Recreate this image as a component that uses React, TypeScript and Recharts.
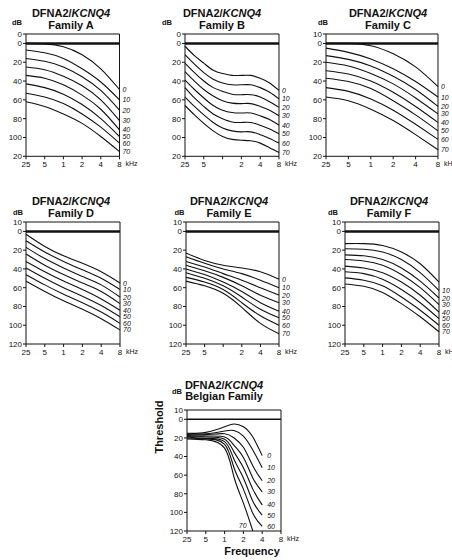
import React from 'react';
import { LineChart, Line, XAxis, YAxis, ReferenceLine } from 'recharts';

const FONT = '"Liberation Sans", Arial, Helvetica, sans-serif';
const INK = '#111';

// frequencies (kHz)
const OCTAVES = [0.25, 0.5, 1, 2, 4, 8];
const FREQS_B = [0.25, 0.354, 0.5, 0.707, 1, 1.414, 2, 2.83, 4, 5.66, 8];
const FREQS_BELGIAN = [0.25, 0.5, 1, 1.414, 2, 2.83, 4];

// axis labels as printed
const Y_TICKS = [-10, 0, 20, 40, 60, 80, 100, 120];
const RIGHT_TICKS = [20, 40, 60, 80, 100];
const Y_LABELS_A = ['0', '0', '20', '40', '60', '80', '100', '20'];
const Y_LABELS_B = ['0', '0', '20', '40', '60', '80', '00', '20'];
const Y_LABELS_C = ['10', '0', '20', '40', '60', '80', '100', '20'];
const Y_LABELS_FULL = ['10', '0', '20', '40', '60', '80', '100', '120'];
const X_LABELS = ['25', '5', '1', '2', '4', '8'];
const X_LABELS_NO1 = ['25', '5', '', '2', '4', '8'];

// age of each curve (years)
const AGES = ['0', '10', '20', '30', '40', '50', '60', '70'];
const AGES_F = ['', '10', '20', '30', '40', '50', '60', '70'];

// thresholds in dB, one row per age
const familyA = [
  [0, 0.5, 3.5, 12, 27, 49],
  [7, 10, 16, 27, 41, 60],
  [16, 19, 25, 35.5, 50, 71],
  [25, 28, 35, 45, 60, 82],
  [34, 37, 44, 55, 70, 92],
  [43, 47, 54, 65, 80, 99],
  [53, 57, 64, 75, 89, 106],
  [62, 67, 75, 85, 99, 115],
];
const familyB = [
  [3, 13, 21, 28.5, 32, 34, 34, 34, 37, 42, 50],
  [12, 22, 31, 38, 42, 44, 44, 44, 47, 52, 59],
  [21, 31, 40, 47, 51, 54, 54.5, 54.5, 57, 62, 68],
  [30, 40, 49, 56, 61, 63.5, 64, 64, 67, 71, 77],
  [39, 49, 58, 66, 71, 73.5, 74, 74, 77, 81, 87],
  [47, 58, 67, 75, 80, 83.5, 84, 84, 87, 91, 96],
  [57, 67, 76, 84, 90, 93, 94, 94, 97, 101, 106],
  [66, 76, 85, 93, 99, 102, 103, 103.5, 106, 111, 116],
];
const familyC = [
  [0, 0, 2.5, 11, 25, 46],
  [5, 9.5, 16.5, 27, 40.5, 57],
  [13, 17, 24, 35, 49, 67],
  [20, 24, 32, 43, 58, 75],
  [29, 32.5, 40, 52, 67, 84],
  [37, 40.5, 48, 61, 76, 93],
  [47, 51, 59, 71, 86, 102],
  [57, 61, 70, 82, 97, 113],
];
const familyD = [
  [3, 16, 26, 34, 43, 55],
  [10, 22, 32, 41, 50, 62],
  [17, 29, 39, 48, 57, 70],
  [24, 36, 46, 55, 64, 77],
  [32, 43, 53, 62, 72, 84],
  [39, 50, 60, 69, 79, 91],
  [46, 57, 67, 76, 86, 98],
  [53, 64, 74, 83, 93, 105],
];
const familyE = [
  [23, 31, 36, 39, 43, 51],
  [27, 34, 40, 45, 52, 60],
  [32, 38, 45, 52, 60, 68],
  [36, 42, 49, 58, 68, 76],
  [40, 46, 54, 64, 76, 85],
  [44, 50, 58, 70, 83, 92],
  [49, 54, 62, 76, 90, 100],
  [53, 58, 66, 81, 98, 109],
];
const familyF = [
  [13, 13, 15, 22, 34.5, 54],
  [18.5, 19, 22, 30, 44, 63],
  [25, 26, 30, 39, 53, 71],
  [30, 31.5, 36, 46, 60, 78],
  [37, 39, 44, 54, 68, 86],
  [43, 45, 51, 62, 76, 93],
  [49.5, 52, 58, 70, 84, 100],
  [56, 58.5, 65, 77, 91, 107],
];
const familyBelgian: (number | null)[][] = [
  [15, 14, 8, 5, 8, 19, 39],
  [15.5, 15.5, 12.5, 12, 18, 33, 52],
  [16.5, 16.5, 15.5, 20, 30, 50, 66],
  [17.5, 18, 19, 28, 41, 63, 78],
  [18.5, 19, 21.5, 35, 52, 75, 92],
  [19, 20.5, 24, 43, 63, 88, 103],
  [20, 21, 27, 52, 75, 101, 115],
  [21, 22, 31, 62, 90, 120, null],
];

const PAD_L = 26;
const PAD_R = 26;
const PAD_T = 10;
const PAD_B = 20;

const FreqTick = ({ x, y, payload, labels }: any) => {
  const i = OCTAVES.indexOf(payload.value);
  return (
    <g>
      <text x={x} y={y} dy="0.71em" textAnchor="middle" fontSize={8} fontFamily={FONT} fill={INK}>
        {labels[i]}
      </text>
      {payload.value === 8 && (
        <text x={x + 6} y={y} dy="0.71em" textAnchor="start" fontSize={7} fontFamily={FONT} fill={INK}>
          kHz
        </text>
      )}
    </g>
  );
};

interface PanelProps {
  freqs: number[];
  curves: (number | null)[][];
  ages: string[];
  yLabels: string[];
  xLabels: string[];
  box: [number, number, number, number]; // plot left, top, right, bottom on the page
  zeroWidth?: number;
  labelPos?: (k: number) => [number, number];
}

const Panel: React.FC<PanelProps> = ({
  freqs, curves, ages, yLabels, xLabels, box, zeroWidth = 2.5, labelPos = () => [3, 2.5],
}) => {
  const [l, t, r, b] = box;
  const w = r - l + PAD_L + PAD_R;
  const h = b - t + PAD_T + PAD_B;
  const rows = freqs.map((f, i) => {
    const row: any = { f };
    curves.forEach((c, k) => { row['c' + k] = c[i]; });
    return row;
  });

  return (
    <div style={{ position: 'absolute', left: l - PAD_L, top: t - PAD_T }}>
      <LineChart width={w} height={h} data={rows} margin={{ top: 0, right: 0, bottom: 0, left: 0 }}>
        <XAxis
          xAxisId="b" dataKey="f" type="number" scale="log" domain={[0.25, 8]}
          ticks={OCTAVES} interval={0} height={PAD_B} tickSize={3} tickMargin={2}
          stroke={INK} tick={(p: any) => <FreqTick {...p} labels={xLabels} />}
        />
        <XAxis
          xAxisId="t" orientation="top" type="number" scale="log" domain={[0.25, 8]}
          ticks={OCTAVES} interval={0} height={PAD_T} tickSize={3}
          tickFormatter={() => ''} stroke={INK}
        />
        <YAxis
          yAxisId="l" type="number" domain={[-10, 120]} reversed ticks={Y_TICKS} interval={0}
          width={PAD_L} tickSize={3} tickMargin={1} stroke={INK}
          tick={{ fontSize: 8, fill: INK, fontFamily: FONT }}
          tickFormatter={(v: number) => yLabels[Y_TICKS.indexOf(v)]}
        />
        <YAxis
          yAxisId="r" orientation="right" type="number" domain={[-10, 120]} reversed
          ticks={RIGHT_TICKS} interval={0} width={PAD_R} tickSize={3}
          tickFormatter={() => ''} stroke={INK}
        />
        <ReferenceLine xAxisId="b" yAxisId="l" y={0} stroke={INK} strokeWidth={zeroWidth} />
        {curves.map((c, k) => {
          const lastIdx = c.reduce((acc: number, v, i) => (v == null ? acc : i), -1);
          const [dx, dy] = labelPos(k);
          return (
            <Line
              key={k}
              xAxisId="b"
              yAxisId="l"
              dataKey={'c' + k}
              type="natural"
              stroke={INK}
              strokeWidth={1.1}
              activeDot={false}
              isAnimationActive={false}
              dot={(p: any) => {
                if (p.index !== lastIdx || !ages[k] || p.cy == null) return <g key={`d${k}-${p.index}`} />;
                return (
                  <text
                    key={`d${k}-${p.index}`}
                    x={p.cx + dx} y={p.cy + dy}
                    fontSize={7} fontStyle="italic" fontFamily={FONT} fill={INK}
                  >
                    {ages[k]}
                  </text>
                );
              }}
            />
          );
        })}
      </LineChart>
    </div>
  );
};

const TITLES = [
  { x: 71, y1: 17, y2: 28.5, name: 'Family A', db: [17, 25] },
  { x: 222, y1: 17, y2: 28.5, name: 'Family B', db: [167, 24.5] },
  { x: 388, y1: 17, y2: 28.5, name: 'Family C', db: [323, 25] },
  { x: 71, y1: 205, y2: 216.5, name: 'Family D', db: [18, 214.5] },
  { x: 229, y1: 205, y2: 216.5, name: 'Family E', db: [179.5, 214.5] },
  { x: 389, y1: 205, y2: 216.5, name: 'Family F', db: [333, 214.5] },
  { x: 224, y1: 388.5, y2: 400, name: 'Belgian Family', db: [177, 394] },
];

const belgianLabelPos = (k: number): [number, number] => (k === 7 ? [-14, -3] : [5, 2.5]);

export default function App() {
  return (
    <div
      style={{
        position: 'absolute', left: 0, top: 0, width: 452, height: 560,
        background: '#fff', overflow: 'hidden', fontFamily: FONT,
      }}
    >
      <Panel freqs={OCTAVES} curves={familyA} ages={AGES} yLabels={Y_LABELS_A} xLabels={X_LABELS} box={[26, 33.7, 119.5, 156]} />
      <Panel freqs={FREQS_B} curves={familyB} ages={AGES} yLabels={Y_LABELS_B} xLabels={X_LABELS_NO1} box={[185, 33.7, 279, 156]} />
      <Panel freqs={OCTAVES} curves={familyC} ages={AGES} yLabels={Y_LABELS_C} xLabels={X_LABELS} box={[326, 33.7, 438, 156]} />
      <Panel freqs={OCTAVES} curves={familyD} ages={AGES} yLabels={Y_LABELS_FULL} xLabels={X_LABELS} box={[26, 222, 120, 344]} />
      <Panel freqs={OCTAVES} curves={familyE} ages={AGES} yLabels={Y_LABELS_FULL} xLabels={X_LABELS_NO1} box={[186, 222, 279, 344]} />
      <Panel freqs={OCTAVES} curves={familyF} ages={AGES_F} yLabels={Y_LABELS_FULL} xLabels={X_LABELS} box={[345, 222, 439, 344]} />
      <Panel
        freqs={FREQS_BELGIAN} curves={familyBelgian} ages={AGES} yLabels={Y_LABELS_FULL} xLabels={X_LABELS}
        box={[187, 410, 281, 531]} zeroWidth={1.5} labelPos={belgianLabelPos}
      />

      <svg width={452} height={560} style={{ position: 'absolute', left: 0, top: 0, pointerEvents: 'none' }}>
        {TITLES.map((t) => (
          <g key={t.name} fontFamily={FONT} fill={INK}>
            <text x={t.x} y={t.y1} textAnchor="middle" fontSize={11} fontWeight="bold">
              DFNA2/<tspan fontStyle="italic">KCNQ4</tspan>
            </text>
            <text x={t.x} y={t.y2} textAnchor="middle" fontSize={11} fontWeight="bold">
              {t.name}
            </text>
            <text x={t.db[0]} y={t.db[1]} textAnchor="middle" fontSize={7.5} fontWeight="bold">
              dB
            </text>
          </g>
        ))}
        <text
          x={0} y={0} transform="translate(163,427) rotate(-90)" textAnchor="middle"
          fontSize={11} fontWeight="bold" fontFamily={FONT} fill={INK}
        >
          Threshold
        </text>
        <text x={252} y={555} textAnchor="middle" fontSize={11} fontWeight="bold" fontFamily={FONT} fill={INK}>
          Frequency
        </text>
      </svg>
    </div>
  );
}
